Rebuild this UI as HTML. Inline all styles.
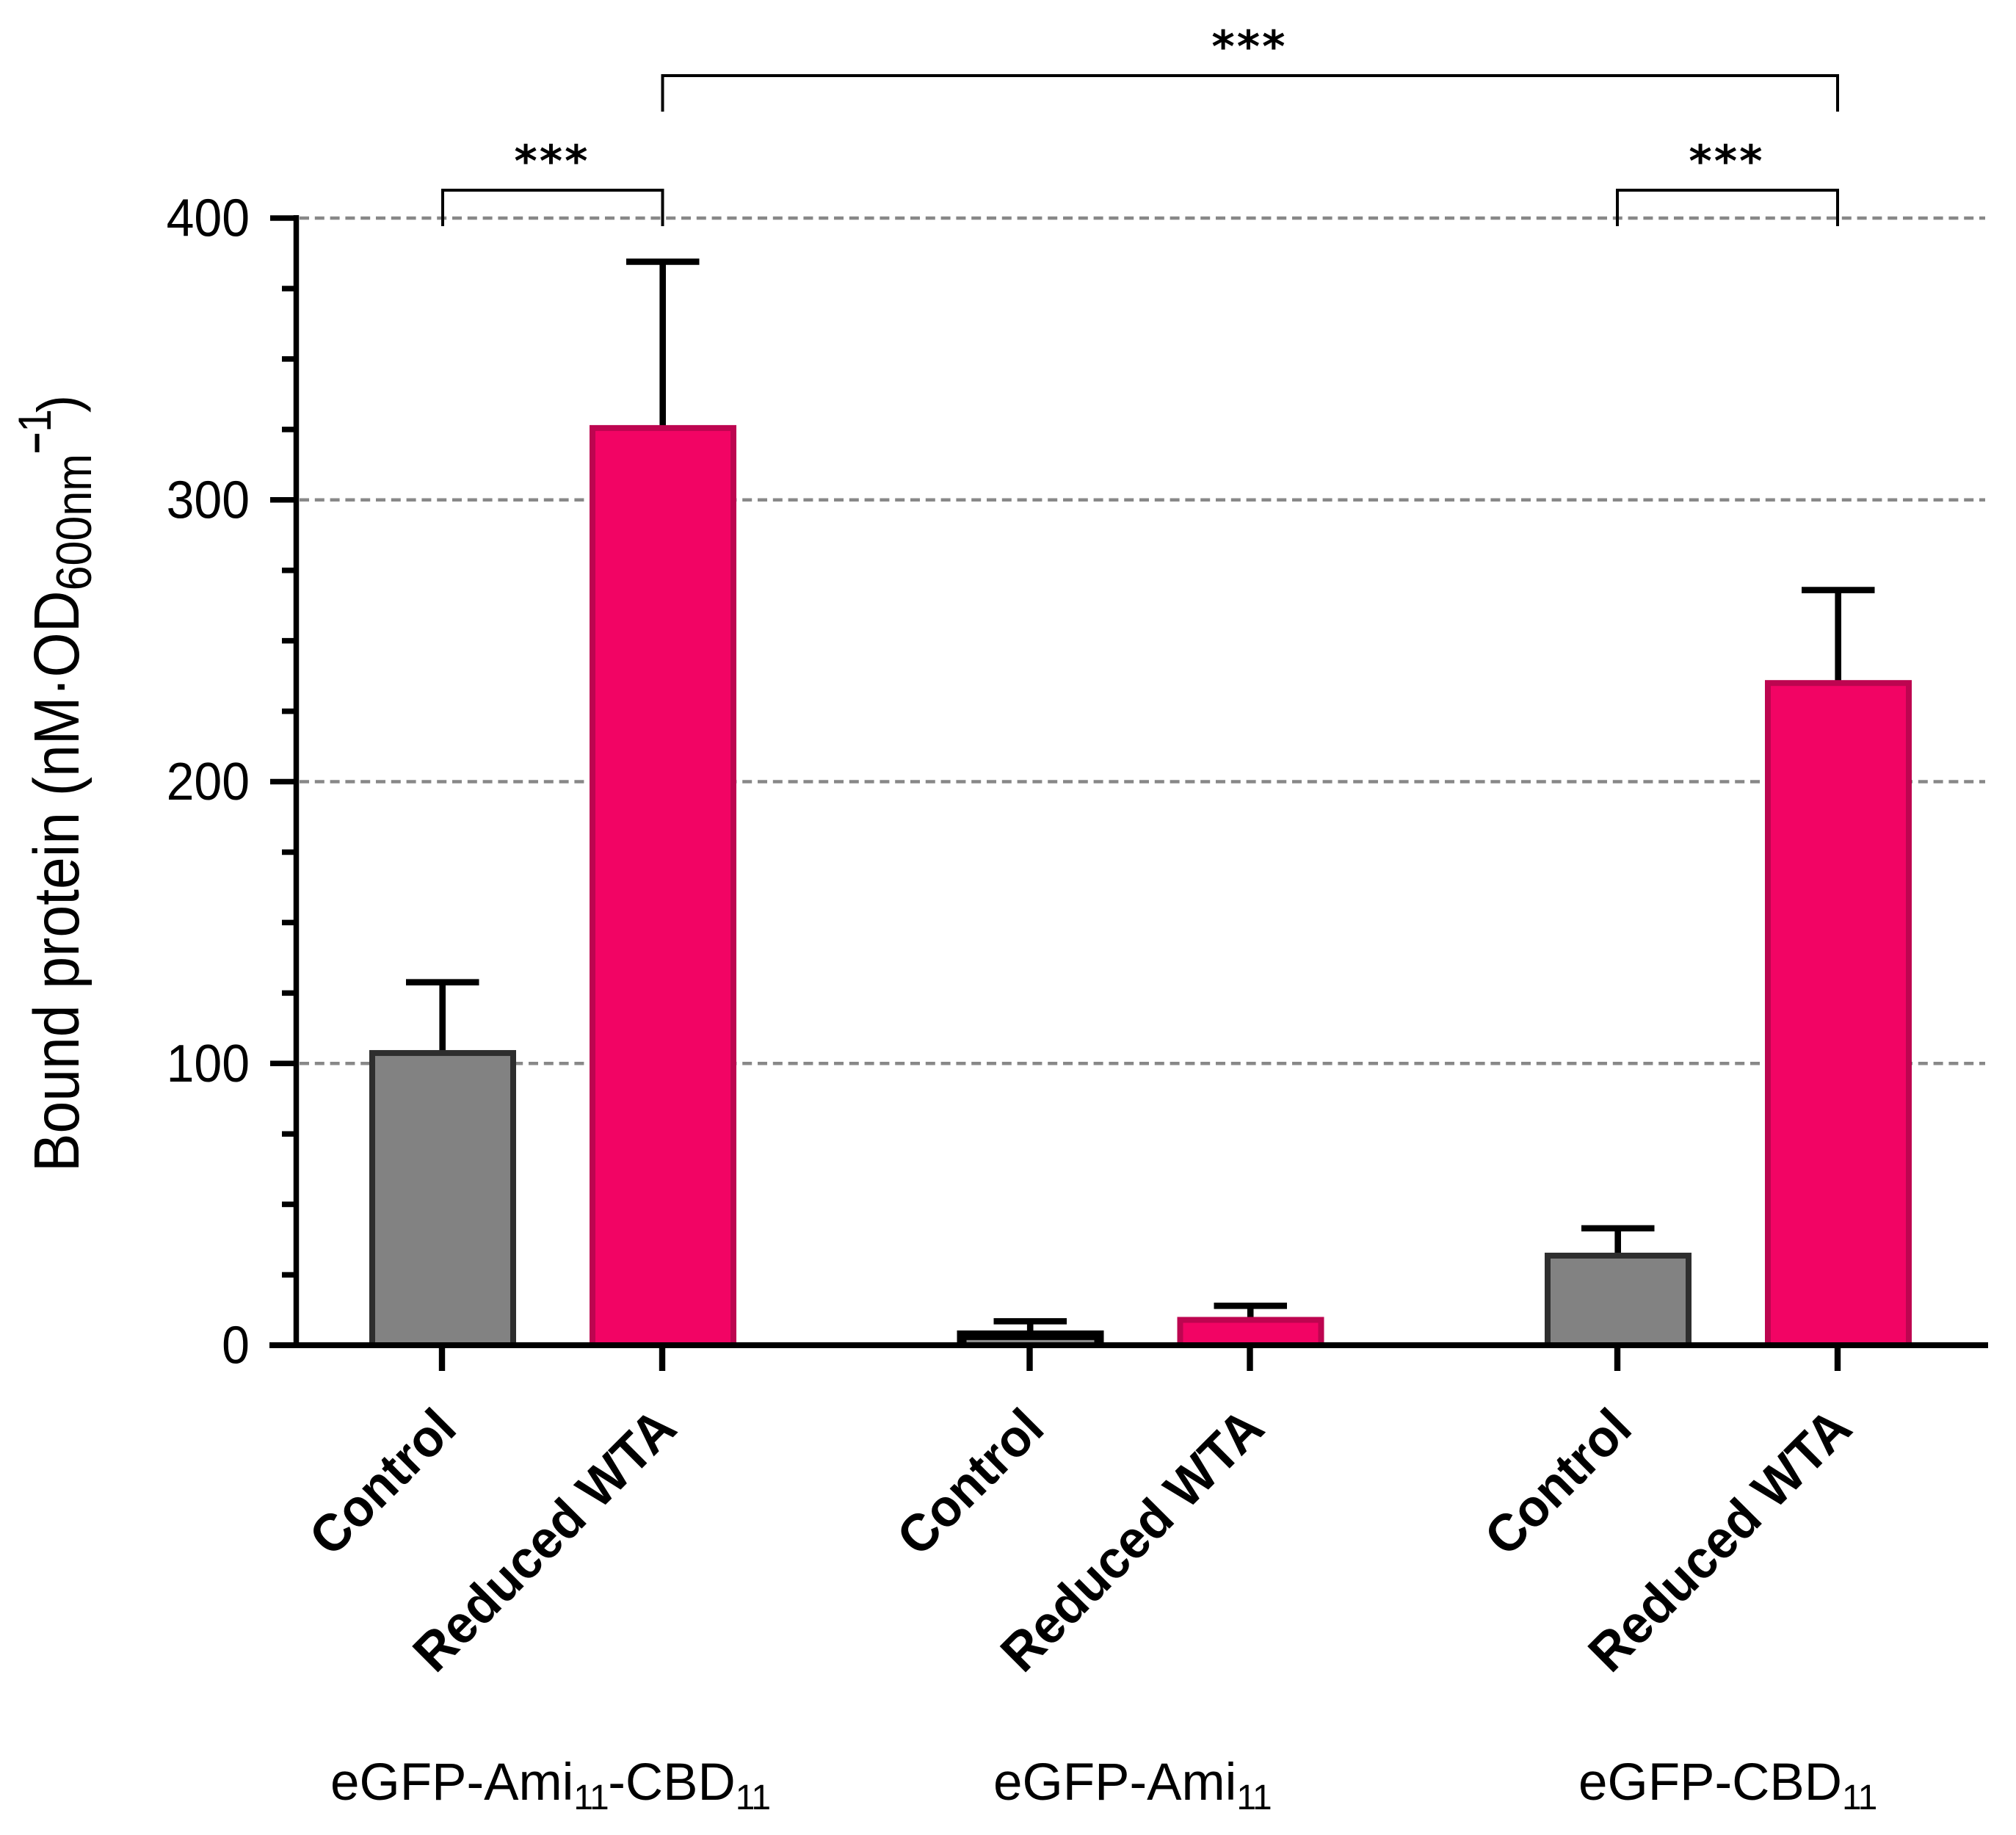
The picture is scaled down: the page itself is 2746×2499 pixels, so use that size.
<!DOCTYPE html>
<html lang="en">
<head>
<meta charset="utf-8">
<title>Bound protein chart</title>
<style>
  html, body { margin: 0; padding: 0; background: #ffffff; }
  svg { display: block; }
  text { font-family: "Liberation Sans", Arial, sans-serif; fill: #000; }
</style>
</head>
<body>
<svg id="chart" xmlns="http://www.w3.org/2000/svg" width="2746" height="2499" viewBox="0 0 2746 2499">
  <defs>
    <clipPath id="plot-clip"><rect x="0" y="0" width="2746" height="1832"/></clipPath>
  </defs>
  <rect x="0" y="0" width="2746" height="2499" fill="#ffffff"/>
  <g id="grid"></g>
  <g id="errs"></g>
  <g id="bars" clip-path="url(#plot-clip)"></g>
  <g id="axes"></g>
  <g id="labels"></g>
  <g id="sig"></g>
  <text transform="translate(107,1596) rotate(-90) scale(1,1.11)" font-size="78.7">Bound protein (nM·OD<tspan font-size="61" dy="15.3">600nm</tspan><tspan font-size="50" font-weight="bold" dy="-49.5">−</tspan><tspan font-size="57">1</tspan><tspan font-size="72" dy="34" dx="-5">)</tspan></text>
</svg>
<script>
// ---- chart data ----
const groupNames = ['eGFP-Ami', 'eGFP-Ami', 'eGFP-CBD'];
const categories = ['Control', 'Reduced WTA'];
const controlValues = [103.7, 4.2, 31.8];
const reducedValues = [325.5, 9, 235];
const controlErrors = [128.8, 8.5, 41.5];
const reducedErrors = [384.5, 14, 268];
const yTickLabels = [0, 100, 200, 300, 400];
const yMinorTicks = [25, 50, 75, 125, 150, 175, 225, 250, 275, 325, 350, 375];

// ---- axis functions ----
const NS = 'http://www.w3.org/2000/svg';
const Y0 = 1832, PX_PER_UNIT = 3.8375;
function yScale(v) { return Y0 - v * PX_PER_UNIT; }
function xScale(group, cat) { return 602 + group * 800.5 + cat * 300; }

function make(parent, tag, attrs) {
  const el = document.createElementNS(NS, tag);
  for (const k in attrs) el.setAttribute(k, attrs[k]);
  parent.appendChild(el);
  return el;
}

const gridG = document.getElementById('grid');
const errG = document.getElementById('errs');
const barG = document.getElementById('bars');
const axG = document.getElementById('axes');
const labG = document.getElementById('labels');
const sigG = document.getElementById('sig');

// gridlines
yTickLabels.forEach(function (v) {
  if (v === 0) return;
  const g = make(gridG, 'line', { x1: 408, x2: 2704, y1: yScale(v), y2: yScale(v), stroke: '#888888', 'stroke-width': 4.5, 'stroke-dasharray': '13 7.8' });
  
  
});

// bars and error bars
function drawSeries(values, errors, catIndex, fill, edge) {
  values.forEach(function (v, gi) {
    const cx = xScale(gi, catIndex);
    const top = yScale(v);
    const errTop = yScale(errors[gi]);

    const stem = make(errG, 'line', { x1: cx + 0.7, x2: cx + 0.7, y1: errTop, y2: top, stroke: '#000', 'stroke-width': 8.6 });
    
    

    const cap = make(errG, 'line', { x1: cx - 49, x2: cx + 50.5, y1: errTop, y2: errTop, stroke: '#000', 'stroke-width': 8.6 });
    
    

    // the very short control bar of group 2 has a heavier black outline in the source figure
    const heavy = (gi === 1 && catIndex === 0);
    const inset = heavy ? 2.5 : 0;
    const bar = make(barG, 'rect', {
      x: cx - 95 + inset,
      y: top + inset,
      width: 192 - 2 * inset,
      height: Y0 - top + 30,
      fill: heavy ? '#8c8c8c' : fill,
      stroke: heavy ? '#000' : edge,
      'stroke-width': heavy ? 13 : 8
    });
    
    
  });
}
drawSeries(controlValues, controlErrors, 0, '#828282', '#2e2e2e');
drawSeries(reducedValues, reducedErrors, 1, '#f20464', '#bd0550');

// y axis
const ySpine = make(axG, 'line', { x1: 403.5, x2: 403.5, y1: yScale(400) - 4, y2: Y0 + 4, stroke: '#000', 'stroke-width': 7.5 });



const xSpine = make(axG, 'line', { x1: 367, x2: 2708, y1: Y0, y2: Y0, stroke: '#000', 'stroke-width': 8 });



yTickLabels.forEach(function (v) {
  const t = make(axG, 'line', { x1: 368, x2: 404, y1: yScale(v), y2: yScale(v), stroke: '#000', 'stroke-width': 7.5 });
  
  

  const l = make(axG, 'text', { transform: 'translate(340,' + (yScale(v) + 24.5) + ') scale(1,1.06)', 'text-anchor': 'end', 'font-size': 68 });
  l.textContent = String(v);
  
  
});
yMinorTicks.forEach(function (v) {
  const t = make(axG, 'line', { x1: 384, x2: 404, y1: yScale(v), y2: yScale(v), stroke: '#000', 'stroke-width': 7.5 });
  
  
});

// x ticks and rotated labels
groupNames.forEach(function (name, gi) {
  categories.forEach(function (cat, ci) {
    const x = xScale(gi, ci);
    const t = make(axG, 'line', { x1: x, x2: x, y1: Y0, y2: 1867, stroke: '#000', 'stroke-width': 8.4 });
    
    

    const lx = x + 23, ly = 1949;
    const l = make(labG, 'text', { x: 0, y: 0, transform: 'translate(' + lx + ',' + ly + ') rotate(-45) scale(1,1.04)', 'text-anchor': 'end', 'font-size': ci === 0 ? 69 : 70, 'font-weight': 'bold' });
    l.textContent = cat;
    
    
  });
});

// group labels with subscripts
const groupLeft = [450, 1353, 2150];
function addGroupLabel(gi, parts) {
  const t = make(labG, 'text', { x: groupLeft[gi], y: 2451, 'font-size': 71 });
  
  
  let sub = false;
  parts.forEach(function (p) {
    const s = make(t, 'tspan', p.sub
      ? { 'font-size': 48, dy: 13, 'letter-spacing': -1.5 }
      : (sub ? { 'font-size': 71, dy: -13 } : { 'font-size': 71 }));
    s.textContent = p.s;
    sub = p.sub;
  });
}
addGroupLabel(0, [{ s: groupNames[0] }, { s: '11', sub: true }, { s: '-CBD' }, { s: '11', sub: true }]);
addGroupLabel(1, [{ s: groupNames[1] }, { s: '11', sub: true }]);
addGroupLabel(2, [{ s: groupNames[2] }, { s: '11', sub: true }]);

// significance brackets
function bracket(name, x1, x2, yTop, yBottom, starX, starY) {
  const p = make(sigG, 'path', { d: 'M' + x1 + ' ' + yBottom + 'V' + yTop + 'H' + x2 + 'V' + yBottom, fill: 'none', stroke: '#000', 'stroke-width': 4 });
  
  

  const s = make(sigG, 'text', { x: starX, y: starY, 'text-anchor': 'middle', 'font-size': 60, 'font-weight': 'bold', 'letter-spacing': 3, style: 'font-family:"DejaVu Sans",sans-serif' });
  s.textContent = '***';
  
  
}
bracket('significance-group-1', 603, 902.5, 259, 308, 752, 240);
bracket('significance-group-3', 2203, 2503, 259, 308, 2352, 240);
bracket('significance-across-groups', 902.5, 2503, 103, 152, 1702, 84);
</script>
</body>
</html>
